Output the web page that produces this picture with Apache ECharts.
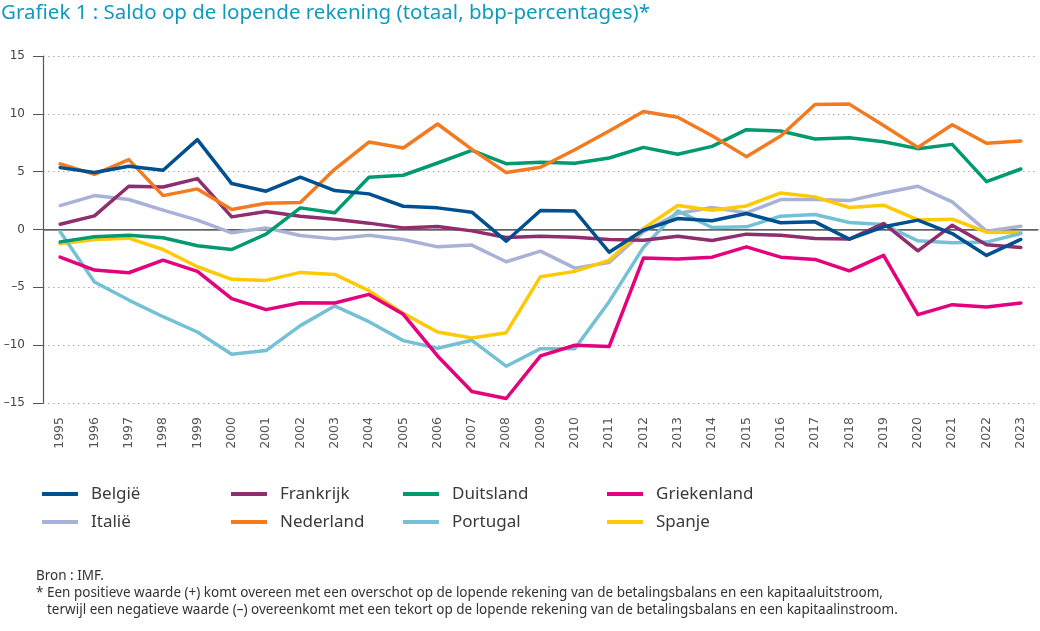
<!DOCTYPE html>
<html>
<head>
<meta charset="utf-8">
<script src="https://cdn.jsdelivr.net/npm/echarts@6/dist/echarts.min.js"></script>
<style>
html,body{margin:0;padding:0;background:#fff;}
#chart{width:1040px;height:631px;}
</style>
</head>
<body>
<div id="chart"></div>
<script>
const years = ['1995','1996','1997','1998','1999','2000','2001','2002','2003','2004','2005','2006','2007','2008','2009','2010','2011','2012','2013','2014','2015','2016','2017','2018','2019','2020','2021','2022','2023'];

const belgie      = [5.35, 4.92, 5.46, 5.12, 7.77, 3.97, 3.31, 4.52, 3.37, 3.08, 2.01, 1.87, 1.50, -1.01, 1.64, 1.61, -1.96, -0.05, 0.95, 0.75, 1.38, 0.58, 0.66, -0.83, 0.23, 0.81, -0.35, -2.24, -0.86];
const frankrijk   = [0.46, 1.18, 3.74, 3.68, 4.40, 1.09, 1.55, 1.15, 0.89, 0.55, 0.14, 0.26, -0.12, -0.69, -0.58, -0.66, -0.86, -0.92, -0.58, -0.95, -0.40, -0.49, -0.78, -0.83, 0.52, -1.84, 0.37, -1.32, -1.55];
const duitsland   = [-1.07, -0.63, -0.49, -0.72, -1.41, -1.73, -0.40, 1.87, 1.44, 4.52, 4.69, 5.75, 6.85, 5.69, 5.81, 5.72, 6.18, 7.10, 6.50, 7.19, 8.63, 8.51, 7.82, 7.94, 7.59, 6.99, 7.36, 4.14, 5.23];
const griekenland = [-2.39, -3.51, -3.74, -2.65, -3.62, -5.98, -6.93, -6.33, -6.36, -5.61, -7.33, -10.93, -14.01, -14.61, -10.93, -10.01, -10.12, -2.47, -2.55, -2.39, -1.50, -2.39, -2.59, -3.57, -2.24, -7.36, -6.50, -6.70, -6.36];
const italie      = [2.07, 2.93, 2.59, 1.67, 0.81, -0.29, 0.14, -0.52, -0.81, -0.49, -0.86, -1.50, -1.35, -2.79, -1.87, -3.34, -2.85, -0.20, 1.38, 1.90, 1.44, 2.59, 2.59, 2.50, 3.16, 3.74, 2.39, -0.14, 0.29];
const nederland   = [5.67, 4.77, 6.04, 2.93, 3.51, 1.73, 2.27, 2.33, 5.20, 7.56, 7.05, 9.12, 6.93, 4.92, 5.38, 6.90, 8.51, 10.21, 9.70, 8.11, 6.30, 8.08, 10.81, 10.84, 9.00, 7.10, 9.06, 7.45, 7.65];
const portugal    = [-0.20, -4.54, -6.10, -7.54, -8.86, -10.79, -10.47, -8.31, -6.61, -7.97, -9.61, -10.27, -9.58, -11.82, -10.30, -10.30, -6.24, -1.55, 1.61, 0.17, 0.23, 1.15, 1.29, 0.60, 0.43, -0.98, -1.15, -1.09, -0.35];
const spanje      = [-1.24, -0.86, -0.75, -1.73, -3.22, -4.31, -4.40, -3.71, -3.88, -5.29, -7.25, -8.86, -9.38, -8.92, -4.08, -3.62, -2.67, 0.09, 2.07, 1.67, 2.04, 3.16, 2.82, 1.90, 2.10, 0.83, 0.89, -0.23, -0.26];

const yTicks = {min: -15, max: 15, step: 5};
const titleText = 'Grafiek 1 : Saldo op de lopende rekening (totaal, bbp-percentages)*';
const sourceText = 'Bron : IMF.';
const note1 = '* Een positieve waarde (+) komt overeen met een overschot op de lopende rekening van de betalingsbalans en een kapitaaluitstroom,';
const note2 = 'terwijl een negatieve waarde (–) overeenkomt met een tekort op de lopende rekening van de betalingsbalans en een kapitaalinstroom.';

const FONT = 'Noto Sans';
const AXFONT = 'DejaVu Sans';
const seriesDefs = [
  {name: 'België', data: belgie, color: '#00508f'},
  {name: 'Frankrijk', data: frankrijk, color: '#8f2d6e'},
  {name: 'Duitsland', data: duitsland, color: '#009a70'},
  {name: 'Griekenland', data: griekenland, color: '#e5007d'},
  {name: 'Italië', data: italie, color: '#a8b2d9'},
  {name: 'Nederland', data: nederland, color: '#f47a20'},
  {name: 'Portugal', data: portugal, color: '#74c1d6'},
  {name: 'Spanje', data: spanje, color: '#ffc905'}
];
const zOrder = {'Italië':1,'Spanje':2,'Portugal':3,'Frankrijk':4,'Duitsland':5,'Griekenland':6,'Nederland':7,'België':8};

const series = seriesDefs.map((s, i) => ({
  name: s.name,
  type: 'line',
  data: s.data,
  symbol: 'none',
  z: 2 + zOrder[s.name],
  lineStyle: {width: 3.5, color: s.color, cap: 'round', join: 'round'},
  itemStyle: {color: s.color},
  emphasis: {disabled: true},
  markLine: i === 0 ? {
    silent: true, symbol: 'none', label: {show: false},
    lineStyle: {type: 'solid', color: '#666', width: 1.5},
    data: [{yAxis: 0}], z: 1
  } : undefined
}));

function mkLegend(left, names) {
  return {
    left: left, top: 479, orient: 'vertical',
    data: names, itemWidth: 36, itemHeight: 4, itemGap: 8,
    icon: 'rect',
    textStyle: {fontFamily: FONT, fontSize: 17, color: '#3a3a3a', lineHeight: 20, padding: [0,0,0,8]},
    selectedMode: false
  };
}

const chart = echarts.init(document.getElementById('chart'));
chart.setOption({
  animation: false,
  backgroundColor: '#fff',
  title: {
    text: titleText, left: -4, top: -2,
    textStyle: {fontFamily: FONT, fontSize: 20.5, fontWeight: 'normal', color: '#0f9bbf'}
  },
  legend: [
    mkLegend(37, ['België', 'Italië']),
    mkLegend(226, ['Frankrijk', 'Nederland']),
    mkLegend(398, ['Duitsland', 'Portugal']),
    mkLegend(602, ['Griekenland', 'Spanje'])
  ],
  grid: {left: 43, right: 2, top: 56, bottom: 228, containLabel: false},
  xAxis: {
    type: 'category', data: years, boundaryGap: true,
    axisLine: {lineStyle: {color: '#555', width: 1.2}},
    axisTick: {inside: true, length: 10, lineStyle: {color: '#555'}},
    axisLabel: {rotate: 90, fontFamily: AXFONT, fontSize: 12.5, color: '#555', margin: 14, interval: 0}
  },
  yAxis: {
    type: 'value', min: yTicks.min, max: yTicks.max, interval: yTicks.step,
    axisLine: {show: true, lineStyle: {color: '#555', width: 1.2}},
    axisTick: {show: true, length: 10, lineStyle: {color: '#555'}},
    axisLabel: {fontFamily: AXFONT, fontSize: 12, color: '#444', margin: 18,
      formatter: v => String(v).replace('-', '–')},
    splitLine: {show: true, lineStyle: {type: [1.5, 3.5], color: '#aaa', width: 1}}
  },
  series: series,
  graphic: [
    {type: 'text', left: 36, top: 569, style: {text: sourceText, font: '13.5px "Noto Sans"', fill: '#333'}},
    {type: 'text', left: 36, top: 586, style: {text: note1, font: '13.5px "Noto Sans"', fill: '#333'}},
    {type: 'text', left: 47, top: 603, style: {text: note2, font: '13.5px "Noto Sans"', fill: '#333'}}
  ]
});
</script>
</body>
</html>
